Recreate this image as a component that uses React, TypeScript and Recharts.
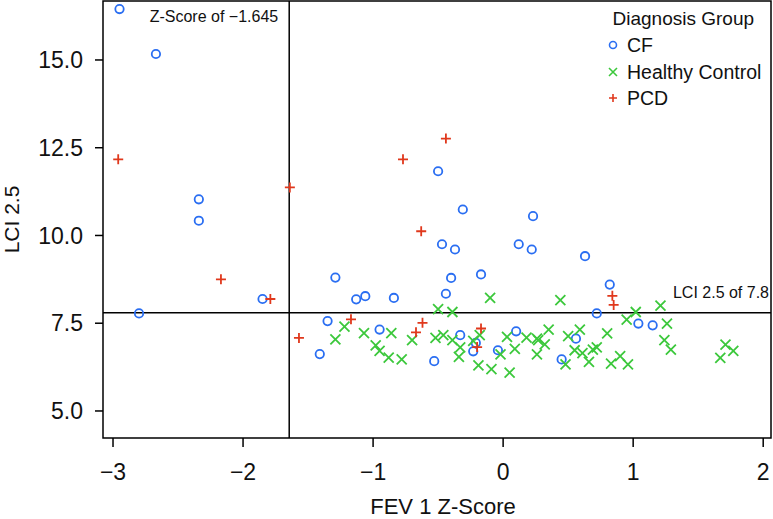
import {
  ScatterChart,
  Scatter,
  XAxis,
  YAxis,
  ReferenceLine,
  ReferenceArea,
} from "recharts";

const X_DOMAIN: [number, number] = [-3.077, 2.06];
const Y_DOMAIN: [number, number] = [4.23, 16.68];
const X_TICKS = [-3, -2, -1, 0, 1, 2];
const Y_TICKS = [5, 7.5, 10, 12.5, 15];

const Z_CUTOFF = -1.645;
const LCI_CUTOFF = 7.8;

const BLUE = "#2a6ef2"; // CF
const GREEN = "#3cc83c"; // healthy control
const RED = "#e0381c"; // PCD

const cfPoints = [
  { x: -2.95, y: 16.45 }, { x: -2.67, y: 15.17 }, { x: -2.34, y: 11.03 },
  { x: -2.34, y: 10.42 }, { x: -2.8, y: 7.78 }, { x: -1.85, y: 8.19 },
  { x: -0.5, y: 11.83 }, { x: -0.31, y: 10.74 }, { x: 0.23, y: 10.55 },
  { x: -0.47, y: 9.75 }, { x: -0.37, y: 9.6 }, { x: 0.12, y: 9.75 },
  { x: 0.22, y: 9.6 }, { x: 0.63, y: 9.41 }, { x: -1.29, y: 8.8 },
  { x: -0.4, y: 8.79 }, { x: -0.17, y: 8.89 }, { x: 0.82, y: 8.6 },
  { x: -1.13, y: 8.18 }, { x: -1.06, y: 8.27 }, { x: -0.84, y: 8.22 },
  { x: -0.44, y: 8.34 }, { x: 0.72, y: 7.78 }, { x: -1.35, y: 7.56 },
  { x: 1.04, y: 7.49 }, { x: 1.15, y: 7.44 }, { x: -0.95, y: 7.32 },
  { x: -0.33, y: 7.16 }, { x: -0.21, y: 6.94 }, { x: -0.23, y: 6.7 },
  { x: -0.04, y: 6.73 }, { x: 0.1, y: 7.27 }, { x: 0.45, y: 6.47 },
  { x: 0.56, y: 7.06 }, { x: -0.53, y: 6.42 }, { x: -1.41, y: 6.62 },
];

const hcPoints = [
  { x: -0.1, y: 8.22 }, { x: 0.44, y: 8.16 }, { x: 1.21, y: 8.0 },
  { x: -0.5, y: 7.9 }, { x: -0.39, y: 7.82 }, { x: 1.02, y: 7.82 },
  { x: 0.95, y: 7.6 }, { x: 1.26, y: 7.49 }, { x: -1.22, y: 7.4 },
  { x: -1.07, y: 7.22 }, { x: -0.86, y: 7.22 }, { x: -1.29, y: 7.04 },
  { x: -0.7, y: 7.02 }, { x: -0.52, y: 7.08 }, { x: -0.46, y: 7.16 },
  { x: -0.39, y: 7.02 }, { x: -0.18, y: 7.16 }, { x: -0.23, y: 7.0 },
  { x: -0.33, y: 6.81 }, { x: -0.34, y: 6.54 }, { x: -0.02, y: 6.61 },
  { x: -0.19, y: 6.3 }, { x: -0.09, y: 6.19 }, { x: 0.05, y: 6.09 },
  { x: 0.03, y: 7.11 }, { x: 0.09, y: 6.77 }, { x: 0.18, y: 7.09 },
  { x: 0.26, y: 7.06 }, { x: 0.27, y: 7.02 }, { x: 0.32, y: 6.9 },
  { x: 0.35, y: 7.32 }, { x: 0.26, y: 6.61 }, { x: 0.48, y: 6.33 },
  { x: 0.5, y: 7.13 }, { x: 0.59, y: 7.32 }, { x: 0.55, y: 6.73 },
  { x: 0.61, y: 6.65 }, { x: 0.66, y: 6.4 }, { x: 0.69, y: 6.75 },
  { x: 0.72, y: 6.81 }, { x: 0.8, y: 7.21 }, { x: 0.83, y: 6.35 },
  { x: 0.9, y: 6.56 }, { x: 0.96, y: 6.33 }, { x: 1.24, y: 7.02 },
  { x: 1.29, y: 6.75 }, { x: 1.67, y: 6.51 }, { x: 1.71, y: 6.89 },
  { x: 1.77, y: 6.71 }, { x: -0.98, y: 6.87 }, { x: -0.95, y: 6.71 },
  { x: -0.88, y: 6.52 }, { x: -0.78, y: 6.47 },
];

const pcdPoints = [
  { x: -2.96, y: 12.17 }, { x: -1.64, y: 11.37 }, { x: -2.17, y: 8.75 },
  { x: -1.79, y: 8.19 }, { x: -1.57, y: 7.08 }, { x: -0.44, y: 12.76 },
  { x: -0.77, y: 12.17 }, { x: -0.63, y: 10.12 }, { x: 0.84, y: 8.28 },
  { x: 0.85, y: 8.02 }, { x: -1.17, y: 7.61 }, { x: -0.62, y: 7.51 },
  { x: -0.67, y: 7.24 }, { x: -0.17, y: 7.35 }, { x: -0.2, y: 6.82 },
];

const FONT = "'Liberation Sans', Arial, Helvetica, sans-serif";

const fmtX = (v: number) => (v < 0 ? "\u2212" + Math.abs(v) : String(v));
const fmtY = (v: number) => v.toFixed(1);

const Circle = ({ cx, cy }: any) => (
  <circle cx={cx} cy={cy} r={4.2} fill="none" stroke={BLUE} strokeWidth={1.8} />
);

const Cross = ({ cx, cy }: any) => (
  <path
    d={`M${cx - 5},${cy - 5}L${cx + 5},${cy + 5}M${cx - 5},${cy + 5}L${cx + 5},${cy - 5}`}
    stroke={GREEN}
    strokeWidth={1.8}
  />
);

const Plus = ({ cx, cy }: any) => (
  <path
    d={`M${cx - 5},${cy}L${cx + 5},${cy}M${cx},${cy - 5}L${cx},${cy + 5}`}
    stroke={RED}
    strokeWidth={1.8}
  />
);

// legend drawn as an overlay so it doesn't eat plot height
const LegendBox = () => (
  <svg width={170} height={112} style={{ display: "block" }}>
    <g fontFamily={FONT} fill="#111">
      <text x={12.5} y={24.8} fontSize={19}>Diagnosis Group</text>
      <circle cx={13} cy={45} r={3.5} fill="none" stroke={BLUE} strokeWidth={1.6} />
      <text x={27} y={51.8} fontSize={19.5}>CF</text>
      <path d="M9,68L17,76M9,76L17,68" stroke={GREEN} strokeWidth={1.6} />
      <text x={27} y={78.8} fontSize={19.5}>Healthy Control</text>
      <path d="M9,98L17,98M13,94L13,102" stroke={RED} strokeWidth={1.6} />
      <text x={27} y={104.8} fontSize={19.5}>PCD</text>
    </g>
  </svg>
);

export default function App() {
  return (
    <div style={{ position: "absolute", left: 0, top: 0, background: "#fff" }}>
      <ScatterChart
        width={773}
        height={519}
        margin={{ top: 1, right: 2, bottom: 0, left: 0 }}
      >
        <XAxis
          type="number"
          dataKey="x"
          domain={X_DOMAIN}
          ticks={X_TICKS}
          allowDataOverflow
          tickFormatter={fmtX}
          height={81}
          axisLine={false}
          tickSize={9}
          tickMargin={17}
          tickLine={{ stroke: "#000", strokeWidth: 1.5 }}
          tick={{ fill: "#111", fontSize: 23, fontFamily: FONT }}
          label={({ viewBox }: any) => (
            <text
              x={viewBox.x + viewBox.width / 2 + 6}
              y={viewBox.y + 76}
              textAnchor="middle"
              fontSize={22}
              fontFamily={FONT}
              fill="#111"
            >
              FEV 1 Z-Score
            </text>
          )}
        />
        <YAxis
          type="number"
          dataKey="y"
          domain={Y_DOMAIN}
          ticks={Y_TICKS}
          allowDataOverflow
          tickFormatter={fmtY}
          width={103}
          axisLine={false}
          tickSize={8}
          tickMargin={12}
          tickLine={{ stroke: "#000", strokeWidth: 1.5 }}
          tick={{ fill: "#111", fontSize: 23, fontFamily: FONT }}
          label={({ viewBox }: any) => {
            const cx = 18.5;
            const cy = viewBox.y + viewBox.height / 2;
            return (
              <text
                x={cx}
                y={cy}
                transform={`rotate(-90 ${cx} ${cy})`}
                textAnchor="middle"
                fontSize={21}
                fontFamily={FONT}
                fill="#111"
              >
                LCI 2.5
              </text>
            );
          }}
        />
        <ReferenceArea
          x1={X_DOMAIN[0]}
          x2={X_DOMAIN[1]}
          y1={Y_DOMAIN[0]}
          y2={Y_DOMAIN[1]}
          fill="none"
          fillOpacity={0}
          stroke="#000"
          strokeWidth={1.5}
        />
        <ReferenceLine
          x={Z_CUTOFF}
          stroke="#000"
          strokeWidth={1.5}
          label={({ viewBox }: any) => (
            <text
              x={viewBox.x - 11}
              y={viewBox.y + 21}
              textAnchor="end"
              fontSize={16}
              fontFamily={FONT}
              fill="#111"
            >
              Z-Score of {"\u2212"}1.645
            </text>
          )}
        />
        <ReferenceLine
          y={LCI_CUTOFF}
          stroke="#000"
          strokeWidth={1.5}
          label={({ viewBox }: any) => (
            <text
              x={viewBox.x + viewBox.width - 2}
              y={viewBox.y - 15}
              textAnchor="end"
              fontSize={16}
              fontFamily={FONT}
              fill="#111"
            >
              LCI 2.5 of 7.8
            </text>
          )}
        />
        <Scatter name="CF" data={cfPoints} shape={Circle} isAnimationActive={false} />
        <Scatter name="Healthy Control" data={hcPoints} shape={Cross} isAnimationActive={false} />
        <Scatter name="PCD" data={pcdPoints} shape={Plus} isAnimationActive={false} />
      </ScatterChart>
      <div style={{ position: "absolute", top: 0, left: 600 }}>
        <LegendBox />
      </div>
    </div>
  );
}
